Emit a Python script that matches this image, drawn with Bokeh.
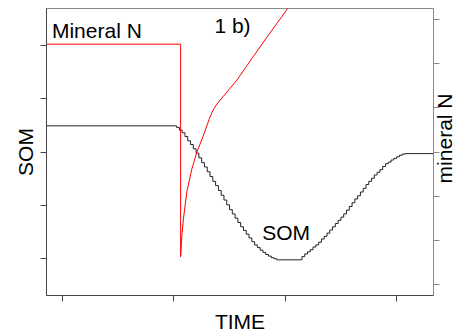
import math
from bokeh.plotting import figure
from bokeh.models import Range1d, LinearAxis, FixedTicker, Label, CustomJSTickFormatter
from bokeh.embed import file_html
from bokeh.resources import INLINE

# ---------------- data ----------------
# Soil organic matter (stepped series, left axis)
som_time = [-0.143, 1.025, 1.050, 1.075, 1.100, 1.125, 1.150, 1.175, 1.200, 1.225,
            1.250, 1.275, 1.300, 1.325, 1.350, 1.375, 1.400, 1.425, 1.450, 1.475,
            1.500, 1.525, 1.550, 1.575, 1.600, 1.625, 1.650, 1.675, 1.700, 1.725,
            1.750, 1.775, 1.800, 1.825, 1.850, 1.875, 1.900, 1.925,
            2.150, 2.175, 2.200, 2.225, 2.250, 2.275, 2.300, 2.325, 2.350, 2.375,
            2.400, 2.425, 2.450, 2.475, 2.500, 2.525, 2.550, 2.575, 2.600, 2.625,
            2.650, 2.675, 2.700, 2.725, 2.750, 2.775, 2.800, 2.825, 2.850, 2.875,
            2.900, 2.925, 2.950, 2.975, 3.000, 3.025, 3.050, 3.075, 3.331]
som_value = [2.49, 2.46, 2.41, 2.36, 2.29, 2.21, 2.14, 2.06, 1.98, 1.89,
             1.80, 1.72, 1.63, 1.54, 1.45, 1.37, 1.28, 1.19, 1.10, 1.01,
             0.92, 0.84, 0.76, 0.68, 0.60, 0.53, 0.46, 0.39, 0.32, 0.26,
             0.21, 0.16, 0.12, 0.08, 0.05, 0.02, 0.00, -0.02,
             0.04, 0.09, 0.13, 0.17, 0.22, 0.26, 0.31, 0.37, 0.42, 0.48,
             0.54, 0.60, 0.66, 0.72, 0.78, 0.84, 0.91, 0.98, 1.05, 1.12,
             1.18, 1.25, 1.32, 1.39, 1.45, 1.51, 1.57, 1.62, 1.67, 1.73,
             1.78, 1.81, 1.85, 1.88, 1.91, 1.94, 1.96, 1.97, 1.97]

# Mineral N (red line, right axis)
n_time = [-0.143, 1.061, 1.061, 1.072, 1.086, 1.116, 1.161, 1.206, 1.262, 1.316,
          1.343, 1.379, 1.441, 1.567, 1.710, 1.862, 2.023, 2.184]
n_value = [5.44, 5.44, 0.63, 1.10, 1.48, 2.09, 2.61, 2.99, 3.35, 3.73,
           3.90, 4.06, 4.25, 4.63, 5.15, 5.69, 6.25, 6.81]

time_ticks = [0, 1, 2, 3]
som_ticks = [0, 1, 2, 3, 4]
n_ticks = [0, 1, 2, 3, 4, 5, 6]

FONT = "Liberation Sans"
FS = "21px"

p = figure(width=470, height=335,
           x_range=Range1d(-0.143, 3.331), y_range=Range1d(-0.688, 4.688),
           output_backend="svg", toolbar_location=None,
           min_border_left=46, min_border_right=36,
           min_border_top=8, min_border_bottom=38)
p.extra_y_ranges = {"N": Range1d(-0.247, 6.247)}

p.xgrid.visible = False
p.ygrid.visible = False
p.outline_line_color = "#8a8a8a"
p.outline_line_width = 1
p.background_fill_color = "white"
p.border_fill_color = "white"

blank = CustomJSTickFormatter(code="return '';")

def style_axis(ax, ticks, color):
    ax.ticker = FixedTicker(ticks=ticks)
    ax.formatter = blank
    ax.major_label_text_font_size = "0px"
    ax.major_label_standoff = 0
    ax.minor_tick_line_color = None
    ax.major_tick_in = 0
    ax.major_tick_out = 6
    ax.axis_line_color = color
    ax.major_tick_line_color = color
    ax.axis_label_text_font = FONT
    ax.axis_label_text_font_size = FS
    ax.axis_label_text_font_style = "normal"
    ax.axis_label_text_color = "black"

style_axis(p.xaxis[0], time_ticks, "#444444")
p.xaxis[0].axis_label = "TIME"
p.xaxis[0].axis_label_standoff = 8

style_axis(p.yaxis[0], som_ticks, "#444444")
p.yaxis[0].axis_label = "SOM"
p.yaxis[0].axis_label_standoff = 4

right_axis = LinearAxis(y_range_name="N")
style_axis(right_axis, n_ticks, "#8a8a8a")
p.add_layout(right_axis, "right")

# right-hand title, reading bottom to top, drawn as the single label of a tick-less axis
label_axis = LinearAxis(y_range_name="N")
label_axis.ticker = FixedTicker(ticks=[2.29])
label_axis.formatter = CustomJSTickFormatter(code="return 'mineral N';")
label_axis.major_label_orientation = math.pi / 2
label_axis.major_label_text_font = FONT
label_axis.major_label_text_font_size = FS
label_axis.major_label_text_color = "black"
label_axis.major_label_standoff = 5
label_axis.major_tick_in = 0
label_axis.major_tick_out = 0
label_axis.major_tick_line_color = None
label_axis.minor_tick_line_color = None
label_axis.axis_line_color = None
p.add_layout(label_axis, "right")

p.step(som_time, som_value, mode="after", line_color="#222222", line_width=1)
p.line(n_time, n_value, y_range_name="N", line_color="#ff0000", line_width=1)

def lab(x, y, text):
    p.add_layout(Label(x=x, y=y, text=text, text_align="left",
                       text_baseline="alphabetic", text_font=FONT,
                       text_font_size=FS, text_color="black"))

lab(-0.094, 4.275, "Mineral N")
lab(1.364, 4.368, "1 b)")
lab(1.793, 0.500, "SOM")

open("out.html", "w").write(file_html(p, INLINE))
